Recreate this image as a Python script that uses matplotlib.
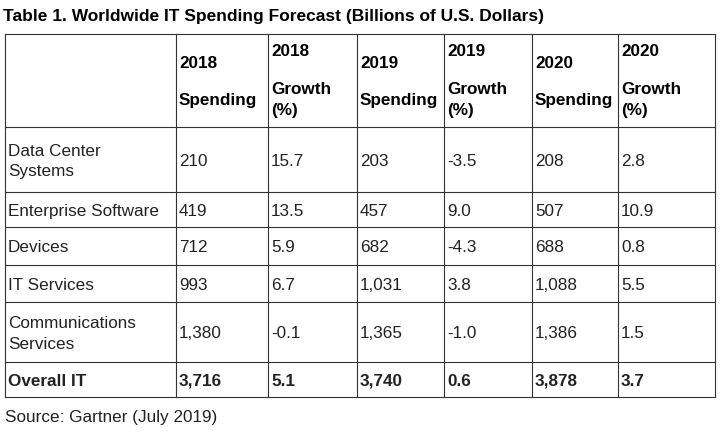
import matplotlib.pyplot as plt

title = "Table 1. Worldwide IT Spending Forecast (Billions of U.S. Dollars)"
source = "Source: Gartner (July 2019)"
segments = ["Data Center\nSystems", "Enterprise Software", "Devices", "IT Services",
            "Communications\nServices", "Overall IT"]
spend_2018 = ["210", "419", "712", "993", "1,380", "3,716"]
growth_2018 = ["15.7", "13.5", "5.9", "6.7", "-0.1", "5.1"]
spend_2019 = ["203", "457", "682", "1,031", "1,365", "3,740"]
growth_2019 = ["-3.5", "9.0", "-4.3", "3.8", "-1.0", "0.6"]
spend_2020 = ["208", "507", "688", "1,088", "1,386", "3,878"]
growth_2020 = ["2.8", "10.9", "0.8", "5.5", "1.5", "3.7"]
years = ["2018", "2019", "2020"]

plt.rcParams['font.family'] = ['Liberation Sans', 'DejaVu Sans']
fig = plt.figure(figsize=(7.26, 4.35), dpi=100)
ax = fig.add_axes([0, 0, 1, 1])
ax.set_xlim(0, 726)
ax.set_ylim(435, 0)
ax.axis('off')

col_x = [5, 176, 268, 357, 444, 532, 618, 715]
row_y = [35, 128, 193, 228, 266, 303, 363, 398]
lc = '#333333'
for x in col_x:
    ax.plot([x, x], [row_y[0], row_y[-1]], color=lc, lw=0.8)
for y in row_y:
    ax.plot([col_x[0], col_x[-1]], [y, y], color=lc, lw=0.8)

fs = 12.3
ax.text(3, 16, title, fontsize=12.5, fontweight='bold', va='center', ha='left')
ax.text(5, 418, source, fontsize=fs, va='center', ha='left', color='#222222')

# header
for i, yr in enumerate(years):
    xs = col_x[1 + 2 * i] + 3
    xg = col_x[2 + 2 * i] + 3
    ax.text(xs, 63, yr, fontsize=fs, fontweight='bold', va='center')
    ax.text(xs, 100, "Spending", fontsize=fs, fontweight='bold', va='center')
    ax.text(xg, 51, yr, fontsize=fs, fontweight='bold', va='center')
    ax.text(xg, 89, "Growth", fontsize=fs, fontweight='bold', va='center')
    ax.text(xg, 111, "(%)", fontsize=fs, fontweight='bold', va='center')

columns = [segments, spend_2018, growth_2018, spend_2019, growth_2019, spend_2020, growth_2020]
for r in range(len(segments)):
    yc = (row_y[r + 1] + row_y[r + 2]) / 2 + 1
    bold = 'bold' if r == len(segments) - 1 else 'normal'
    for c, col in enumerate(columns):
        ax.text(col_x[c] + 3, yc, col[r], fontsize=fs, fontweight=bold,
                va='center', ha='left', color='#222222', linespacing=1.45)

fig.savefig('out.png', dpi=100)
